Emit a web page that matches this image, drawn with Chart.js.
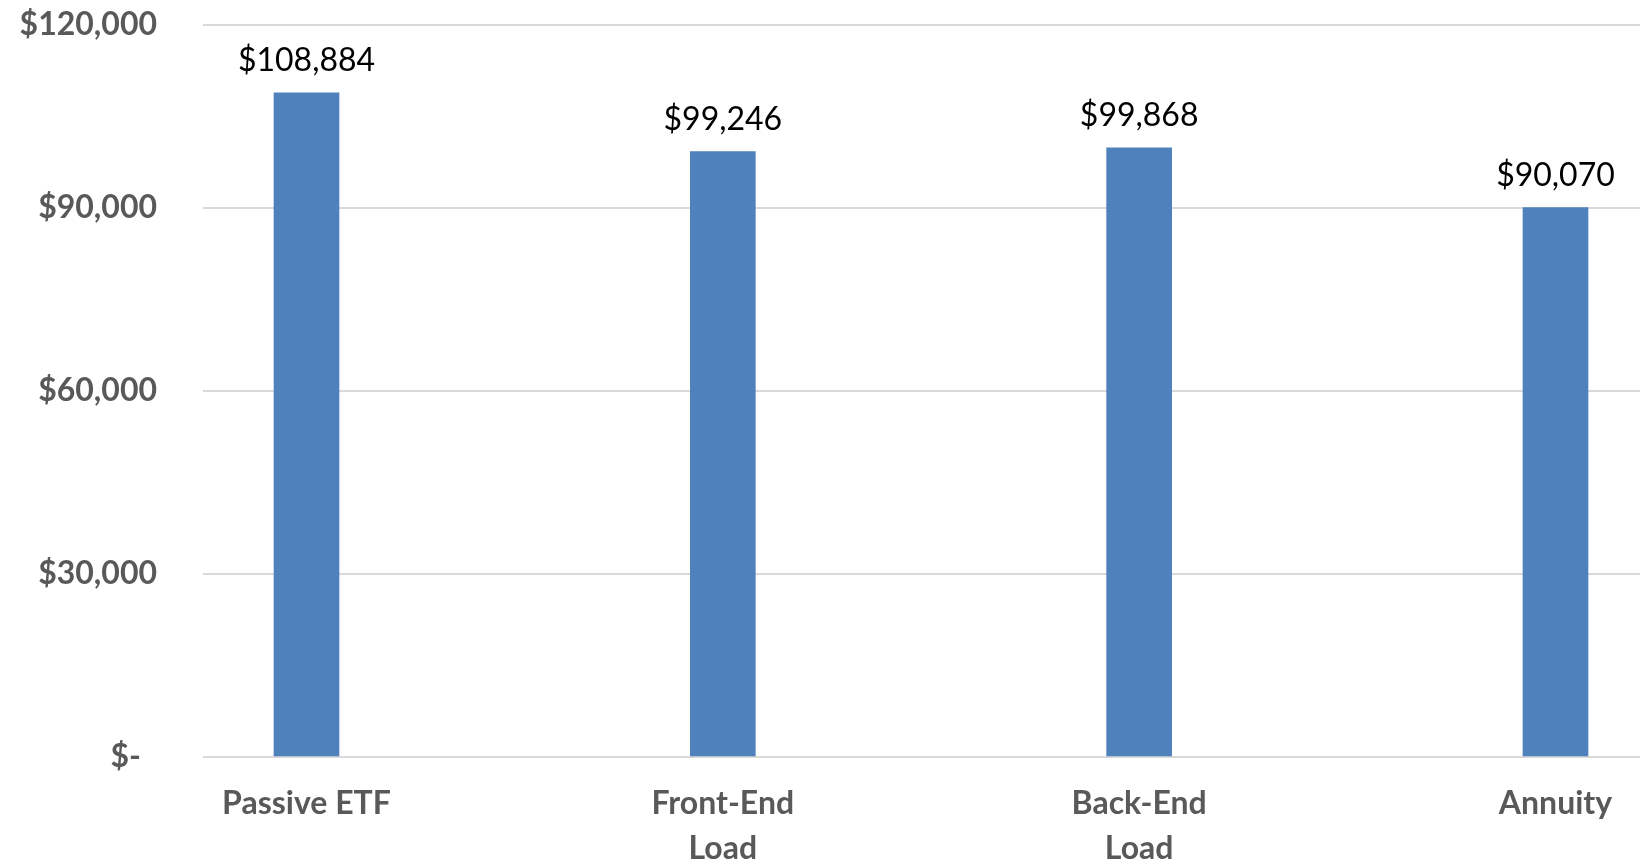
<!DOCTYPE html>
<html>
<head>
<meta charset="utf-8">
<title>Ending balance by investment type</title>
<script src="https://cdn.jsdelivr.net/npm/chart.js@4.4.1/dist/chart.umd.min.js"></script>
<style>
  html, body { margin: 0; padding: 0; background: #fff; overflow: hidden; }
  #wrap { width: 1640px; height: 865px; position: relative; }
</style>
</head>
<body>
<div id="wrap"><canvas id="balanceChart"></canvas></div>
<script>
// tick labels for each investment type (one array entry per line)
const categories = [['Passive ETF'], ['Front-End', 'Load'], ['Back-End', 'Load'], ['Annuity']];
const balances = [108884, 99246, 99868, 90070];
const yTicks = [0, 30000, 60000, 90000, 120000];

const BAR_BLUE = '#4f81bd';
const AXIS_GREY = '#595959';

// accounting style: zero shows as "$-" with a trailing pad
const money = v => v === 0 ? '$-\u2002' : '$' + v.toLocaleString('en-US');

// value text above every bar
const barValueLabels = {
  id: 'barValueLabels',
  afterDatasetsDraw(chart) {
    const ctx = chart.ctx;
    const meta = chart.getDatasetMeta(0);
    ctx.save();
    ctx.font = '32px Lato';
    ctx.fillStyle = '#000';
    ctx.textAlign = 'center';
    ctx.textBaseline = 'alphabetic';
    meta.data.forEach((bar, i) => {
      ctx.fillText(money(balances[i]), bar.x, bar.y - 22);
    });
    ctx.restore();
  }
};

function initChart() {
  const ctx = document.getElementById('balanceChart').getContext('2d');
  const tickFont = { family: 'Lato', size: 32, weight: 'bold', lineHeight: 1.4 };

  new Chart(ctx, {
    type: 'bar',
    data: {
      datasets: [{
        data: balances.map((v, i) => ({ x: i, y: v })),
        backgroundColor: BAR_BLUE,
        borderWidth: 0,
        barThickness: 65
      }]
    },
    options: {
      responsive: true,
      maintainAspectRatio: false,
      animation: false,
      layout: { padding: { top: 25, right: 0, bottom: 0, left: 0 } },
      plugins: {
        legend: { display: false },
        tooltip: { enabled: false }
      },
      scales: {
        x: {
          type: 'linear',
          offset: false,
          min: -0.2486,
          max: 3.203,
          afterBuildTicks: scale => { scale.ticks = categories.map((c, i) => ({ value: i })); },
          afterFit: scale => {
            scale.height = 108;
            scale.paddingLeft = 0;
            scale.paddingRight = 0;
          },
          grid: { display: false, drawTicks: false, offset: false },
          border: { display: false },
          ticks: {
            callback: (v, i) => categories[i],
            font: tickFont,
            color: AXIS_GREY,
            padding: 24,
            maxRotation: 0,
            autoSkip: false
          }
        },
        y: {
          min: 0,
          max: 120000,
          afterBuildTicks: scale => { scale.ticks = yTicks.map(v => ({ value: v })); },
          afterFit: scale => {
            // keep the plot edges fixed; labels sit in the margin
            scale.width = 203;
            scale.paddingTop = 0;
            scale.paddingBottom = 0;
          },
          grid: { color: '#d9d9d9', lineWidth: 2, drawTicks: false },
          border: { display: false },
          ticks: {
            callback: v => money(v),
            font: tickFont,
            color: AXIS_GREY,
            padding: 46
          }
        }
      }
    },
    plugins: [barValueLabels]
  });
}

window.addEventListener('DOMContentLoaded', () => {
  Promise.all([
    document.fonts.load('bold 32px Lato'),
    document.fonts.load('32px Lato')
  ]).finally(initChart);
});
</script>
</body>
</html>
